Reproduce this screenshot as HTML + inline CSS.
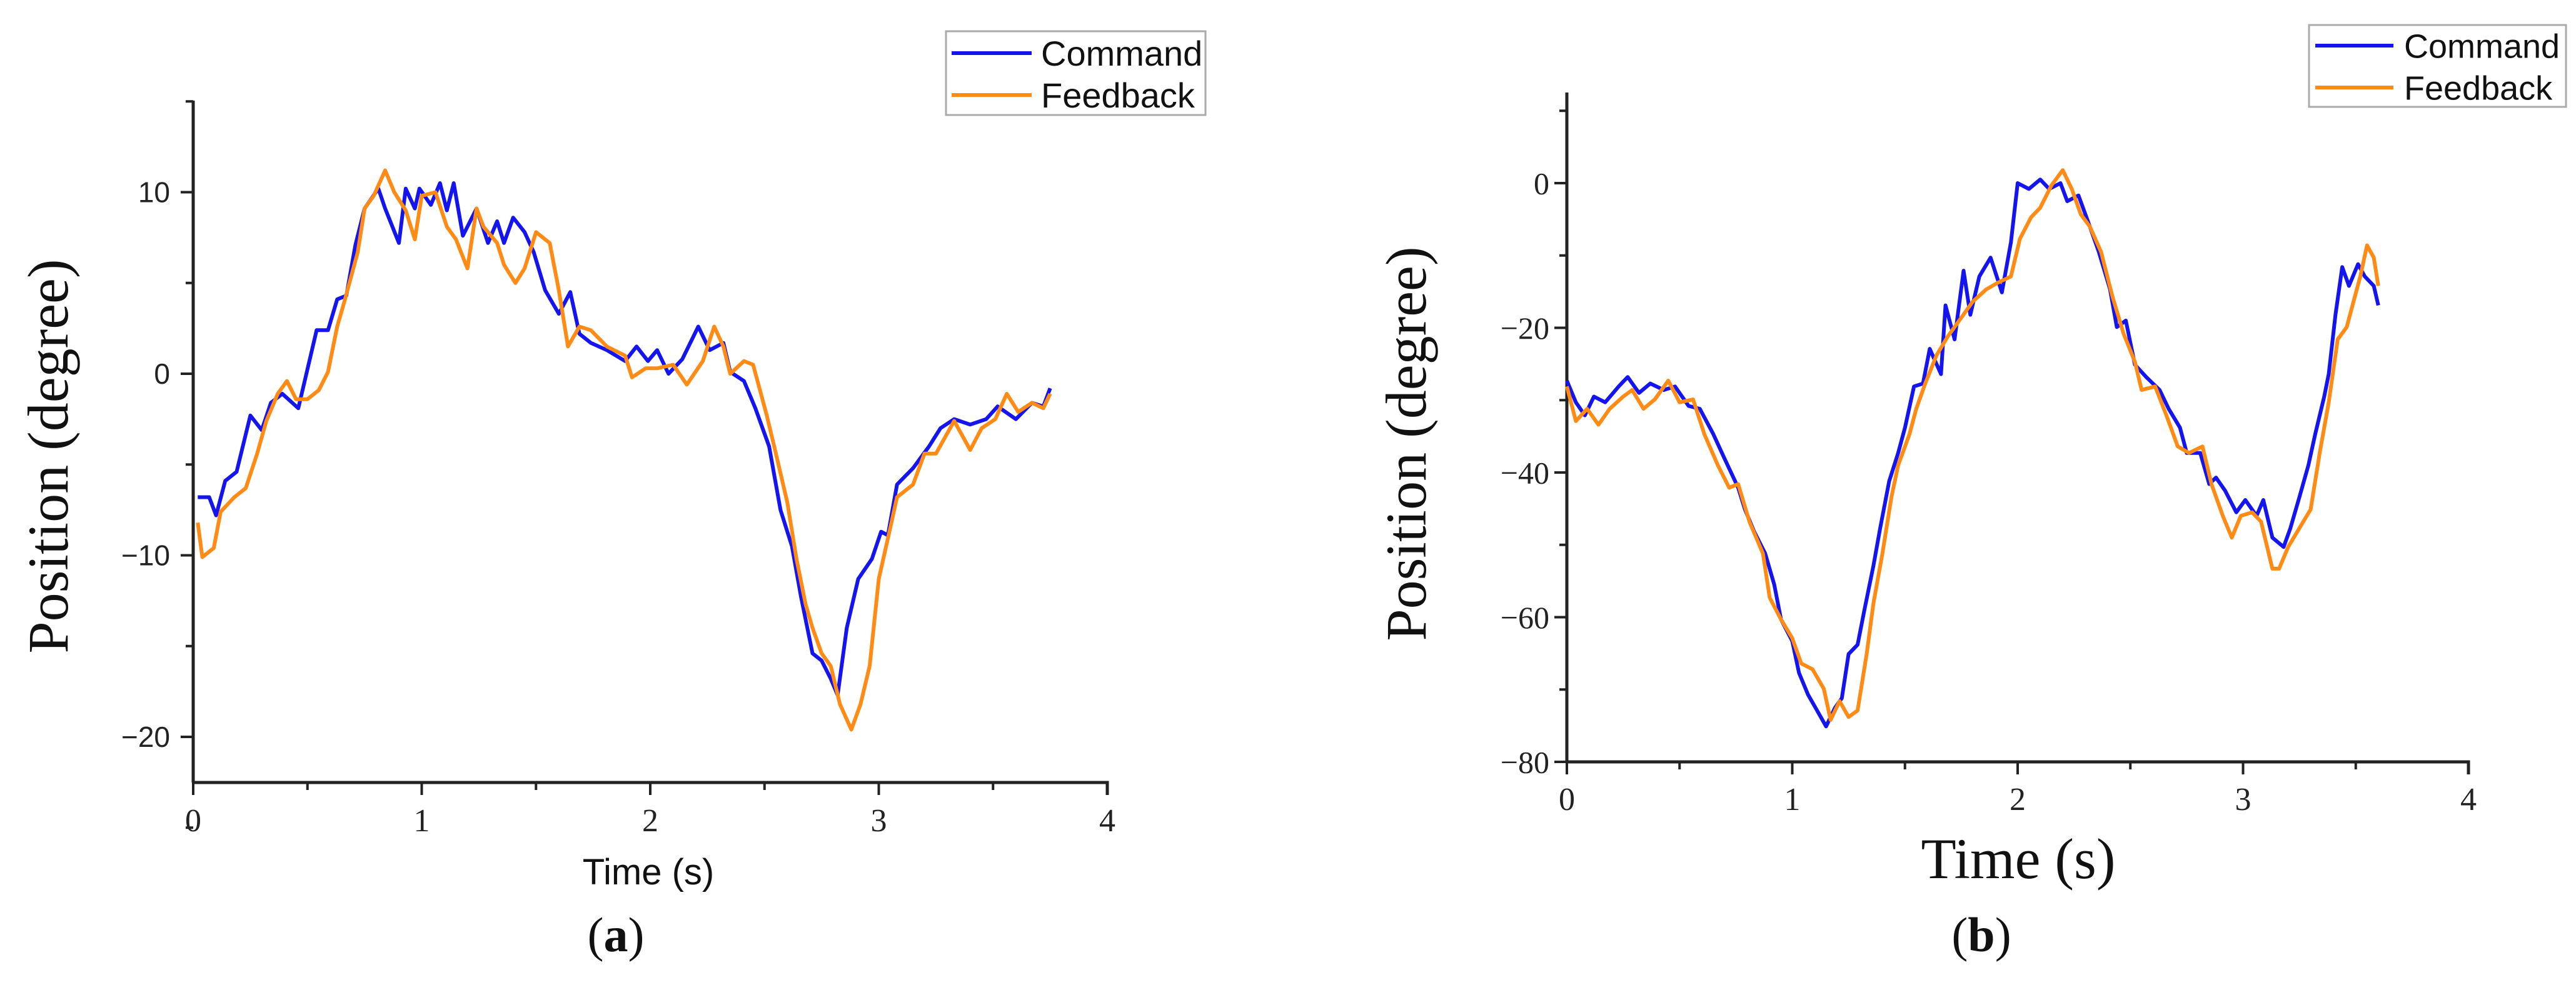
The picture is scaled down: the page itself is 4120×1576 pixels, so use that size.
<!DOCTYPE html>
<html><head><meta charset="utf-8"><style>
html,body{margin:0;padding:0;background:#fff;}
svg{display:block;}
</style></head><body>
<svg id="fig" width="4120" height="1576" viewBox="0 0 4120 1576" xmlns="http://www.w3.org/2000/svg">
<rect width="4120" height="1576" fill="#fff"/>
<g id="chartA"></g>
<g id="chartB"></g>
</svg>
<script>
// ---- Chart (a) data ----
const aCmdT=[0.02,0.07,0.10,0.14,0.19,0.25,0.30,0.34,0.39,0.46,0.54,0.59,0.63,0.67,0.71,0.75,0.81,0.84,0.90,0.93,0.97,0.99,1.04,1.08,1.11,1.14,1.18,1.24,1.29,1.33,1.36,1.40,1.45,1.49,1.54,1.60,1.65,1.69,1.74,1.81,1.89,1.94,1.99,2.03,2.08,2.14,2.21,2.26,2.32,2.35,2.41,2.46,2.52,2.57,2.62,2.66,2.71,2.75,2.79,2.82,2.86,2.91,2.97,3.01,3.04,3.08,3.15,3.22,3.27,3.33,3.40,3.47,3.52,3.60,3.67,3.72,3.75];
const aCmdV=[-6.8,-6.8,-7.8,-5.9,-5.4,-2.3,-3.1,-1.6,-1.1,-1.9,2.4,2.4,4.1,4.3,7.1,9.1,10.2,9.1,7.2,10.2,9.1,10.2,9.3,10.5,9.0,10.5,7.6,9.1,7.2,8.4,7.2,8.6,7.8,6.7,4.6,3.3,4.5,2.2,1.7,1.3,0.7,1.5,0.7,1.3,0,0.8,2.6,1.3,1.7,0.1,-0.4,-1.9,-4.0,-7.5,-9.5,-12.3,-15.4,-15.8,-16.8,-17.7,-14.0,-11.3,-10.2,-8.7,-8.9,-6.1,-5.2,-4.0,-3.0,-2.5,-2.8,-2.5,-1.8,-2.5,-1.6,-1.8,-0.8];
const aFbT=[0.02,0.04,0.09,0.12,0.18,0.23,0.28,0.32,0.37,0.41,0.45,0.50,0.55,0.59,0.63,0.66,0.72,0.75,0.79,0.84,0.88,0.93,0.97,1.00,1.06,1.11,1.15,1.20,1.24,1.27,1.33,1.36,1.41,1.45,1.50,1.56,1.60,1.64,1.69,1.74,1.81,1.89,1.92,1.98,2.03,2.10,2.16,2.23,2.28,2.32,2.35,2.41,2.45,2.51,2.55,2.60,2.64,2.68,2.71,2.75,2.79,2.83,2.88,2.92,2.96,3.00,3.05,3.08,3.15,3.20,3.25,3.33,3.40,3.45,3.51,3.56,3.61,3.67,3.72,3.75];
const aFbV=[-8.2,-10.1,-9.6,-7.6,-6.8,-6.3,-4.4,-2.6,-1.1,-0.4,-1.4,-1.4,-0.9,0.1,2.6,3.9,6.7,9.1,9.8,11.2,10.0,9.0,7.4,9.8,10.0,8.1,7.4,5.8,9.1,8.1,7.2,6.0,5.0,5.8,7.8,7.2,4.6,1.5,2.6,2.4,1.5,1.0,-0.2,0.3,0.3,0.5,-0.6,0.7,2.6,1.5,0,0.7,0.5,-2.3,-4.4,-7.1,-10.2,-12.7,-14.0,-15.4,-16.1,-18.2,-19.6,-18.2,-16.1,-11.3,-8.5,-6.8,-6.1,-4.4,-4.4,-2.6,-4.2,-3.0,-2.5,-1.1,-2.1,-1.6,-1.9,-1.1];
const aXTicks=[0,1,2,3,4];
const aYTicks=[10,0,-10,-20];
const aYTickLabels=["10","0","\u221210","\u221220"];

// ---- Chart (b) data ----
const bCmdT=[0,0.04,0.08,0.12,0.17,0.23,0.27,0.32,0.37,0.43,0.48,0.54,0.59,0.65,0.70,0.76,0.79,0.83,0.88,0.92,0.95,1.00,1.03,1.07,1.11,1.15,1.19,1.22,1.25,1.29,1.32,1.36,1.39,1.43,1.47,1.50,1.54,1.58,1.61,1.66,1.68,1.72,1.76,1.79,1.83,1.88,1.93,1.97,2.00,2.05,2.10,2.14,2.19,2.22,2.27,2.32,2.36,2.41,2.44,2.48,2.52,2.57,2.63,2.67,2.72,2.75,2.81,2.85,2.88,2.92,2.97,3.01,3.06,3.09,3.13,3.18,3.21,3.25,3.29,3.32,3.36,3.38,3.41,3.44,3.47,3.51,3.54,3.58,3.60];
const bCmdV=[-27.3,-30.3,-32.1,-29.5,-30.3,-28.1,-26.8,-29.0,-27.7,-28.6,-28.1,-30.8,-31.2,-34.7,-38.1,-42.1,-45.1,-48.1,-51.2,-55.5,-60.3,-63.3,-67.7,-70.7,-72.9,-75.1,-72.5,-71.2,-65.1,-63.8,-59.0,-52.9,-47.7,-41.2,-37.3,-33.8,-28.1,-27.7,-22.9,-26.4,-16.9,-21.6,-12.1,-18.2,-12.9,-10.3,-15.1,-8.2,0,-0.8,0.5,-0.8,0,-2.5,-1.7,-6.0,-9.5,-14.7,-19.9,-19.0,-25.1,-26.8,-28.6,-31.2,-33.8,-37.3,-37.3,-41.6,-40.7,-42.5,-45.5,-43.8,-46.0,-43.8,-49.0,-50.3,-47.7,-43.4,-39.0,-34.7,-29.5,-26.4,-18.2,-11.6,-14.2,-11.2,-12.9,-14.2,-16.9];
const bFbT=[0,0.04,0.09,0.14,0.19,0.25,0.29,0.34,0.39,0.45,0.50,0.56,0.61,0.67,0.72,0.76,0.81,0.87,0.90,0.95,1.00,1.04,1.09,1.14,1.17,1.21,1.25,1.29,1.33,1.36,1.40,1.44,1.47,1.52,1.55,1.59,1.64,1.69,1.75,1.80,1.86,1.91,1.97,2.01,2.06,2.10,2.15,2.20,2.24,2.28,2.32,2.37,2.42,2.47,2.52,2.55,2.61,2.66,2.71,2.76,2.82,2.86,2.91,2.95,2.99,3.04,3.08,3.13,3.16,3.20,3.25,3.30,3.34,3.38,3.42,3.46,3.49,3.52,3.55,3.58,3.60];
const bFbV=[-28.1,-32.9,-31.2,-33.4,-31.2,-29.5,-28.6,-31.2,-29.9,-27.3,-30.3,-29.9,-34.7,-39.0,-42.1,-41.6,-46.8,-51.2,-57.3,-60.3,-62.9,-66.4,-67.2,-69.9,-74.2,-71.6,-73.8,-72.9,-65.1,-58.1,-51.2,-43.4,-39.0,-34.7,-31.2,-27.7,-23.8,-21.2,-18.6,-16.4,-14.7,-13.8,-12.9,-7.7,-4.7,-3.4,-0.3,1.8,-0.8,-4.3,-6.0,-9.5,-15.6,-20.8,-24.7,-28.6,-28.1,-32.1,-36.4,-37.3,-36.4,-41.6,-46.0,-49.0,-46.0,-45.5,-46.8,-53.3,-53.3,-50.3,-47.7,-45.1,-37.3,-30.3,-21.6,-19.9,-16.4,-12.9,-8.6,-10.3,-14.2];
const bXTicks=[0,1,2,3,4];
const bYTicks=[0,-20,-40,-60,-80];
const bYTickLabels=["0","\u221220","\u221240","\u221260","\u221280"];

const NS="http://www.w3.org/2000/svg";
function mk(parent,tag,attrs){const e=document.createElementNS(NS,tag);for(const k in attrs)e.setAttribute(k,attrs[k]);parent.appendChild(e);return e;}

function drawChart(g,cfg){
  const X=t=>cfg.x0+(t-0)*(cfg.x4-cfg.x0)/4;
  const Y=v=>cfg.yRef+(cfg.vRef-v)*cfg.pxPerUnit;
  const yax=mk(g,'line',{x1:cfg.x0,y1:cfg.top,x2:cfg.x0,y2:cfg.bottom,stroke:'#222','stroke-width':5});
  
  
  const xax=mk(g,'polyline',{points:`${cfg.x0},${cfg.bottom} ${cfg.x4},${cfg.bottom} ${cfg.x4},${cfg.bottom+20}`,fill:'none',stroke:'#222','stroke-width':5});
  
  
  for(let t=0;t<=4.001;t+=0.5){
    const major=Math.abs(t-Math.round(t))<1e-6;
    mk(g,'line',{x1:X(t),y1:cfg.bottom,x2:X(t),y2:cfg.bottom+(major?20:12),stroke:'#222','stroke-width':4});
  }
  cfg.xTicks.forEach(t=>{
    const tx=mk(g,'text',{x:X(t),y:cfg.xLabY,'text-anchor':'middle','font-family':'"Liberation Serif",serif','font-size':cfg.xTickFont,fill:'#222'});
    tx.textContent=String(t);
    
    
  });
  for(let v=cfg.minorStart;v<=cfg.minorEnd+1e-6;v+=cfg.minorStep){
    const major=cfg.yTicks.some(m=>Math.abs(m-v)<1e-6);
    mk(g,'line',{x1:cfg.x0,y1:Y(v),x2:cfg.x0-(major?20:12),y2:Y(v),stroke:'#222','stroke-width':4});
  }
  cfg.yTicks.forEach((v,i)=>{
    const tx=mk(g,'text',{x:cfg.yLabX,y:Y(v)+cfg.yTickFont*0.35,'text-anchor':'end','font-family':cfg.yTickFamily,'font-size':cfg.yTickFont,fill:'#222'});
    tx.textContent=cfg.yLabels[i];
    
    
  });
  const series=[[cfg.cT,cfg.cV,'#1414f0','command-line'],[cfg.fT,cfg.fV,'#ff8a14','feedback-line']];
  series.forEach(s=>{
    const pts=s[0].map((t,i)=>X(t).toFixed(1)+','+Y(s[1][i]).toFixed(1)).join(' ');
    const pl=mk(g,'polyline',{points:pts,fill:'none',stroke:s[2],'stroke-width':6,'stroke-linejoin':'round'});
    
    
  });
  const xt=mk(g,'text',{x:cfg.xTitleX,y:cfg.xTitleY,'text-anchor':'middle','font-family':cfg.xTitleFamily,'font-size':cfg.xTitleFont,fill:'#111'});
  xt.textContent='Time (s)';
  
  
  const yt=mk(g,'text',{x:0,y:0,transform:`translate(${cfg.yTitleX},${cfg.yTitleY}) rotate(-90)`,'text-anchor':'middle','font-family':'"Liberation Serif",serif','font-size':cfg.yTitleFont,fill:'#111'});
  yt.textContent='Position (degree)';
  
  
  const lg=mk(g,'g',{});
  
  
  const L=cfg.leg;
  mk(lg,'rect',{x:L.x,y:L.y,width:L.w,height:L.h,fill:'#fff',stroke:'#aaa','stroke-width':3});
  [['Command','#1414f0',L.y1],['Feedback','#ff8a14',L.y2]].forEach(e=>{
    const le=mk(lg,'g',{});
    
    
    mk(le,'line',{x1:L.lx1,y1:e[2],x2:L.lx2,y2:e[2],stroke:e[1],'stroke-width':6});
    const tx=mk(le,'text',{x:L.tx,y:e[2]+L.font*0.36,'font-family':'"Liberation Sans",sans-serif','font-size':L.font,fill:'#111'});
    tx.textContent=e[0];
  });
  const cap=mk(g,'text',{x:cfg.capX,y:1522,'text-anchor':'middle','font-family':'"Liberation Serif",serif','font-size':78,fill:'#111'});
  cap.innerHTML=cfg.cap;
  
  
}

drawChart(document.getElementById('chartA'),{
  x0:309,x4:1771,top:161,bottom:1252,yRef:598,vRef:0,pxPerUnit:29.05,
  xTicks:aXTicks,yTicks:aYTicks,yLabels:aYTickLabels,minorStart:-25,minorEnd:15,minorStep:5,
  xLabY:1330,xTickFont:52,yLabX:272,yTickFont:46,yTickFamily:'"Liberation Sans",sans-serif',
  cT:aCmdT,cV:aCmdV,fT:aFbT,fV:aFbV,
  xTitleX:1037,xTitleY:1415,xTitleFont:58,xTitleFamily:'"Liberation Sans",sans-serif',
  yTitleX:108,yTitleY:730,yTitleFont:92,
  leg:{x:1513,y:50,w:415,h:134,y1:85,y2:152,lx1:1522,lx2:1650,tx:1665,font:56},
  capX:985,cap:'(<tspan font-weight="bold">a</tspan>)'
});
drawChart(document.getElementById('chartB'),{
  x0:2506,x4:3948,top:148,bottom:1219,yRef:293,vRef:0,pxPerUnit:11.575,
  xTicks:bXTicks,yTicks:bYTicks,yLabels:bYTickLabels,minorStart:-80,minorEnd:10,minorStep:10,
  xLabY:1296,xTickFont:52,yLabX:2478,yTickFont:50,yTickFamily:'"Liberation Serif",serif',
  cT:bCmdT,cV:bCmdV,fT:bFbT,fV:bFbV,
  xTitleX:3228,xTitleY:1405,xTitleFont:92,xTitleFamily:'"Liberation Serif",serif',
  yTitleX:2280,yTitleY:710,yTitleFont:92,
  leg:{x:3693,y:40,w:411,h:131,y1:73,y2:140,lx1:3703,lx2:3828,tx:3845,font:54},
  capX:3169,cap:'(<tspan font-weight="bold">b</tspan>)'
});
</script>
</body></html>
